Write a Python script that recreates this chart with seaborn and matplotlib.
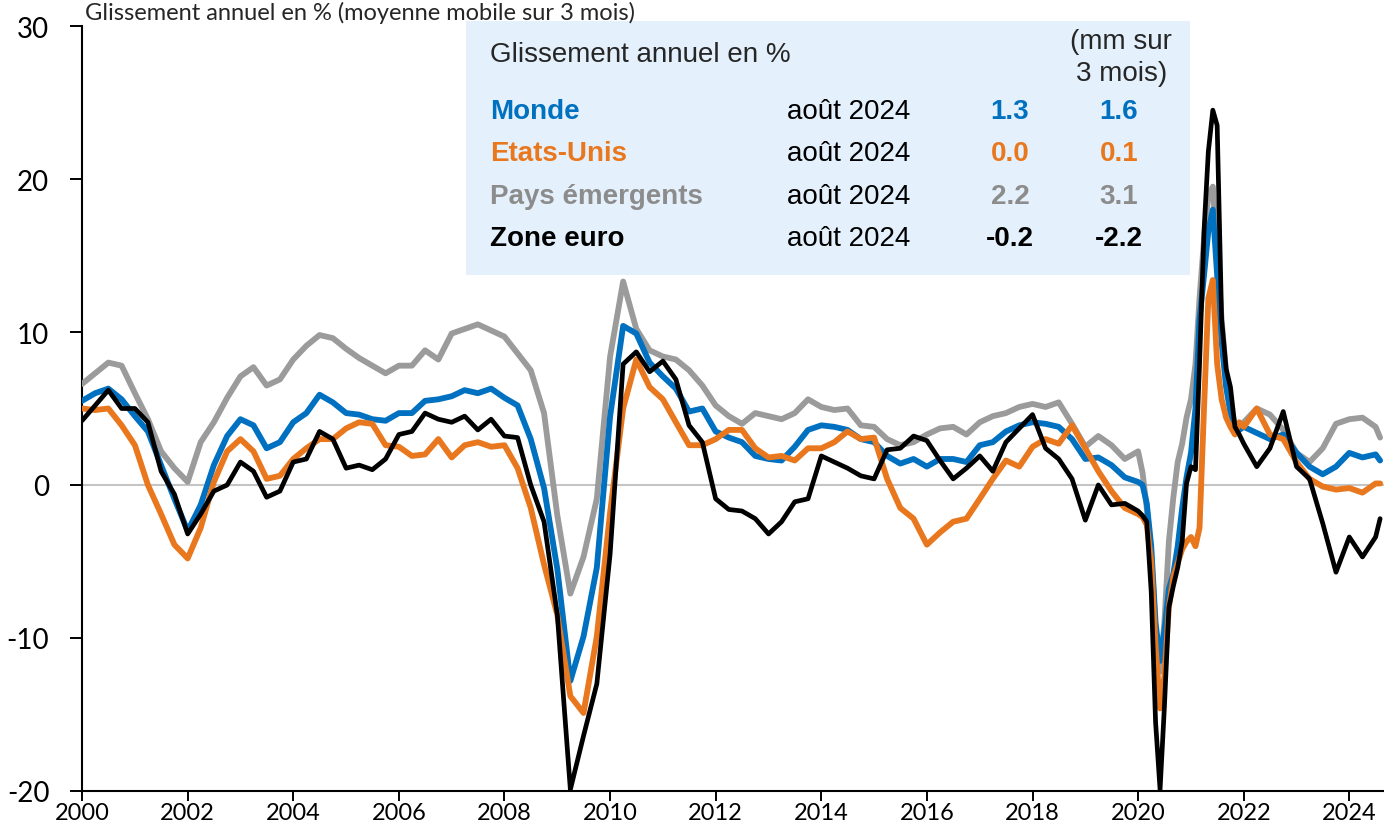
import pandas as pd
import matplotlib
matplotlib.use('Agg')
import matplotlib.pyplot as plt
import matplotlib.dates as mdates
from matplotlib.patches import Rectangle
import seaborn as sns

sns.set_theme(style='ticks')
plt.rcParams['font.family'] = ['Lato', 'DejaVu Sans']
plt.rcParams['axes.unicode_minus'] = False

# dates : trimestriel 2000-2019, mensuel 2020-2021, trimestriel ensuite + aout 2024
dates = (list(pd.date_range('2000-01-01', '2019-10-01', freq='QS-JAN'))
         + list(pd.date_range('2020-01-01', '2021-12-01', freq='MS'))
         + list(pd.date_range('2022-01-01', '2024-07-01', freq='QS-JAN'))
         + [pd.Timestamp('2024-08-01')])

monde = [5.5, 6.0, 6.3, 5.6, 4.5, 3.5, 1.3, -0.9, -3.0, -1.3, 1.3, 3.2,
         4.3, 3.9, 2.4, 2.8, 4.1, 4.7, 5.9, 5.4, 4.7, 4.6, 4.3, 4.2,
         4.7, 4.7, 5.5, 5.6, 5.8, 6.2, 6.0, 6.3, 5.7, 5.2, 3.0, -0.2,
         -5.5, -12.8, -9.9, -5.4, 4.5, 10.4, 9.9, 8.0, 7.1, 6.3, 4.8, 5.0,
         3.5, 3.1, 2.8, 1.9, 1.7, 1.6, 2.5, 3.6, 3.9, 3.8, 3.6, 3.0,
         2.8, 1.9, 1.4, 1.7, 1.2, 1.7, 1.7, 1.5, 2.6, 2.8, 3.5, 3.9,
         4.1, 4.0, 3.8, 3.0, 1.7, 1.8, 1.3, 0.5,
         0.2, 0.0, -1.2, -4.0, -9.0, -11.5, -9.5, -6.8, -5.8, -4.0, -1.5, 0.5,
         2.1, 5.0, 10.8, 13.7, 16.6, 18.0, 13.7, 9.3, 6.4, 4.7, 3.8, 3.6,
         3.8, 3.4, 3.0, 3.3, 2.1, 1.2, 0.7, 1.2, 2.1, 1.8, 2.0, 1.6]

etats_unis = [5.0, 4.9, 5.0, 3.9, 2.6, 0.0, -1.9, -3.9, -4.8, -2.8, 0.2, 2.2,
              3.0, 2.2, 0.4, 0.6, 1.7, 2.4, 3.0, 3.0, 3.7, 4.1, 4.0, 2.6,
              2.5, 1.9, 2.0, 3.0, 1.8, 2.6, 2.8, 2.5, 2.6, 1.1, -1.5, -5.2,
              -8.5, -13.8, -14.9, -9.9, -1.8, 5.0, 8.2, 6.4, 5.6, 4.1, 2.6, 2.6,
              3.0, 3.6, 3.6, 2.4, 1.8, 1.9, 1.6, 2.4, 2.4, 2.8, 3.5, 3.0,
              3.1, 0.4, -1.5, -2.2, -3.9, -3.1, -2.4, -2.2, -0.9, 0.4, 1.6, 1.2,
              2.5, 3.0, 2.7, 3.9, 2.4, 0.9, -0.4, -1.5,
              -1.9, -2.1, -2.6, -5.0, -10.5, -14.6, -12.5, -8.0, -6.0, -5.1, -4.2, -3.7,
              -3.4, -4.0, -2.8, 5.0, 12.2, 13.4, 7.9, 5.6, 4.4, 3.8, 3.3, 4.1,
              3.8, 5.0, 3.3, 3.0, 1.5, 0.4, -0.1, -0.3, -0.2, -0.5, 0.1, 0.1]

emergents = [6.6, 7.3, 8.0, 7.8, 6.0, 4.3, 2.2, 1.1, 0.2, 2.8, 4.1, 5.7,
             7.1, 7.7, 6.5, 6.9, 8.2, 9.1, 9.8, 9.6, 8.9, 8.3, 7.8, 7.3,
             7.8, 7.8, 8.8, 8.2, 9.9, 10.2, 10.5, 10.1, 9.7, 8.6, 7.5, 4.7,
             -2.0, -7.1, -4.7, -0.9, 8.4, 13.3, 10.2, 8.8, 8.4, 8.2, 7.5, 6.5,
             5.2, 4.5, 4.0, 4.7, 4.5, 4.3, 4.7, 5.6, 5.1, 4.9, 5.0, 3.9,
             3.8, 3.0, 2.6, 2.8, 3.3, 3.7, 3.8, 3.3, 4.1, 4.5, 4.7, 5.1,
             5.3, 5.1, 5.4, 4.0, 2.5, 3.2, 2.6, 1.7,
             2.2, 0.8, -1.5, -4.5, -9.5, -12.2, -9.0, -3.7, -0.8, 1.5, 2.7, 4.4,
             5.6, 7.9, 12.2, 16.0, 18.9, 19.5, 15.1, 10.8, 7.3, 5.0, 4.0, 3.8,
             4.1, 5.0, 4.6, 3.6, 2.1, 1.5, 2.4, 4.0, 4.3, 4.4, 3.8, 3.1]

zone_euro = [4.2, 5.2, 6.2, 5.0, 5.0, 4.1, 0.9, -0.6, -3.2, -1.9, -0.4, 0.0,
             1.5, 0.9, -0.8, -0.4, 1.5, 1.7, 3.5, 3.0, 1.1, 1.3, 1.0, 1.7,
             3.3, 3.5, 4.7, 4.3, 4.1, 4.5, 3.6, 4.3, 3.2, 3.1, 0.0, -2.4,
             -8.5, -19.9, -16.4, -13.0, -4.5, 7.9, 8.7, 7.4, 8.1, 6.9, 3.9, 2.8,
             -0.9, -1.6, -1.7, -2.2, -3.2, -2.4, -1.1, -0.9, 1.9, 1.5, 1.1, 0.6,
             0.4, 2.3, 2.4, 3.2, 2.9, 1.6, 0.4, 1.1, 1.9, 0.9, 2.8, 3.7,
             4.6, 2.4, 1.7, 0.4, -2.3, 0.0, -1.3, -1.2,
             -1.7, -2.0, -2.4, -7.0, -15.5, -19.9, -14.5, -8.0, -6.6, -5.4, -3.7, 0.1,
             1.2, 1.0, 7.9, 16.6, 21.8, 24.5, 23.5, 10.8, 7.6, 6.4, 3.8, 3.3,
             2.7, 1.2, 2.4, 4.8, 1.2, 0.4, -2.5, -5.7, -3.4, -4.7, -3.4, -2.2]

# tableau de l'encadre
noms = ['Monde', 'Etats-Unis', 'Pays émergents', 'Zone euro']
mois = ['août 2024'] * 4
glis = ['1.3', '0.0', '2.2', '-0.2']
glis_mm3 = ['1.6', '0.1', '3.1', '-2.2']

couleurs = {'Monde': '#0070C0', 'Etats-Unis': '#E8771E',
            'Pays émergents': '#9B9B9B', 'Zone euro': '#000000'}
couleurs_txt = {'Monde': '#0070C0', 'Etats-Unis': '#E8771E',
                'Pays émergents': '#8C8C8C', 'Zone euro': '#000000'}

df = pd.concat([pd.DataFrame({'date': dates, 'valeur': v, 'serie': n})
                for n, v in zip(noms, [monde, etats_unis, emergents, zone_euro])])

W, H = 1384, 837
fig = plt.figure(figsize=(W / 100, H / 100), dpi=100)
ax = fig.add_axes([82 / W, 45 / H, 1302 / W, 765 / H])

ax.axhline(0, color='#C4C4C4', lw=1.5, zorder=1)
for n, lw in [('Pays émergents', 4.2), ('Monde', 4.2), ('Etats-Unis', 4.2), ('Zone euro', 3.4)]:
    sns.lineplot(data=df[df['serie'] == n], x='date', y='valeur', ax=ax,
                 color=couleurs[n], linewidth=lw, legend=False, zorder=3)

ax.set_ylim(-20, 30)
ax.set_xlim(pd.Timestamp('2000-01-01'), pd.Timestamp('2024-08-28'))
ax.set_yticks(range(-20, 31, 10))
ax.xaxis.set_major_locator(mdates.YearLocator(2))
ax.xaxis.set_major_formatter(mdates.DateFormatter('%Y'))
ax.set_xlabel('')
ax.set_ylabel('')
sns.despine(ax=ax)
for s in ['left', 'bottom']:
    ax.spines[s].set_linewidth(1.5)
    ax.spines[s].set_color('black')
ax.tick_params(axis='both', direction='out', width=1.4, colors='black')
ax.tick_params(axis='y', length=8.5, pad=15, labelsize=20)
ax.tick_params(axis='x', length=7, pad=1, labelsize=17)


def fx(px):
    return px / W


def fy(py):
    return 1 - py / H


fig.text(fx(85), fy(20), 'Glissement annuel en % (moyenne mobile sur 3 mois)',
         fontsize=17, va='baseline', ha='left')

ax.add_patch(Rectangle((fx(466), fy(276)), 724 / W, 254 / H, transform=fig.transFigure,
                       facecolor='#E4F1FC', edgecolor='none', zorder=0.5, clip_on=False))

box_font = ['Liberation Sans', 'DejaVu Sans']
fig.text(fx(490), fy(55), 'Glissement annuel en %', fontsize=20, family=box_font,
         va='center', ha='left')
fig.text(fx(1121), fy(42), '(mm sur', fontsize=20, family=box_font, va='center', ha='center')
fig.text(fx(1122), fy(74), '3 mois)', fontsize=20, family=box_font, va='center', ha='center')

for i, n in enumerate(noms):
    y = fy(112 + i * 42.3)
    c = couleurs_txt[n]
    fig.text(fx(490), y, n, fontsize=20, family=box_font, weight='bold', color=c,
             va='center', ha='left')
    fig.text(fx(787), y, mois[i], fontsize=20, family=box_font, color='black',
             va='center', ha='left')
    fig.text(fx(1010), y, glis[i], fontsize=20, family=box_font, weight='bold', color=c,
             va='center', ha='center')
    fig.text(fx(1119), y, glis_mm3[i], fontsize=20, family=box_font, weight='bold', color=c,
             va='center', ha='center')

fig.savefig('out.png', dpi=100)
